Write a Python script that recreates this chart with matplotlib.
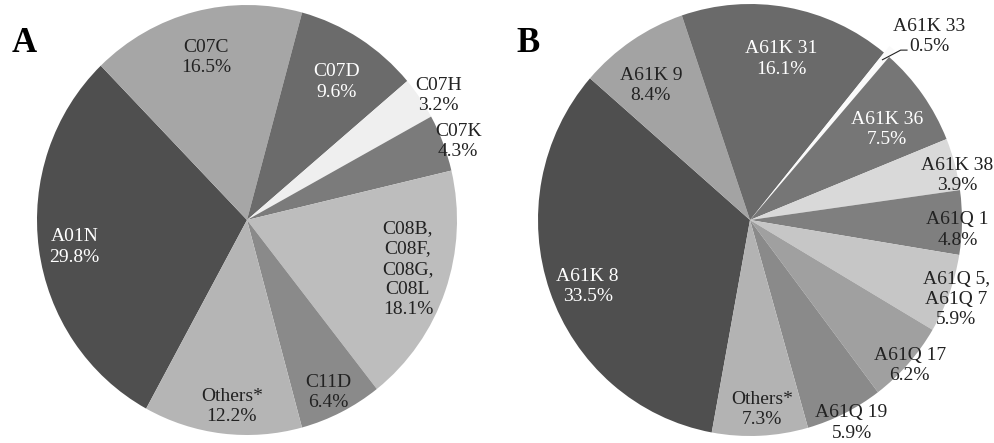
import numpy as np
import matplotlib
matplotlib.use("Agg")
import matplotlib.pyplot as plt

plt.rcParams['font.family'] = ['Liberation Serif', 'DejaVu Serif']

# Panel A data (clockwise)
labels_a = ['A01N', 'C07C', 'C07D', 'C07H', 'C07K', 'C08B,\nC08F,\nC08G,\nC08L', 'C11D', 'Others*']
values_a = [29.8, 16.5, 9.6, 3.2, 4.3, 18.1, 6.4, 12.2]
colors_a = ['#4f4f4f', '#a6a6a6', '#6b6b6b', '#efefef', '#7b7b7b', '#bdbdbd', '#8a8a8a', '#b5b5b5']
txtcol_a = ['white', '#222222', 'white', '#222222', '#222222', '#222222', '#222222', '#222222']
labr_a = [0.83, 0.78, 0.77, 1.08, 1.07, 0.80, 0.89, 0.87]
labd_a = [1, 0, -1, -2, -1, 2.6, -1, 2]

# Panel B data (clockwise)
labels_b = ['A61K 8', 'A61K 9', 'A61K 31', 'A61K 33', 'A61K 36', 'A61K 38', 'A61Q 1',
            'A61Q 5,\nA61Q 7', 'A61Q 17', 'A61Q 19', 'Others*']
values_b = [33.5, 8.4, 16.1, 0.5, 7.5, 3.9, 4.8, 5.9, 6.2, 5.9, 7.3]
colors_b = ['#4f4f4f', '#a3a3a3', '#6a6a6a', '#fafafa', '#767676', '#d9d9d9', '#7f7f7f',
            '#c6c6c6', '#a0a0a0', '#8a8a8a', '#b3b3b3']
txtcol_b = ['white', '#222222', 'white', '#222222', 'white', '#222222', '#222222',
            '#222222', '#222222', '#222222', '#222222']
labr_b = [0.825, 0.78, 0.76, 1.2, 0.77, 1.0, 0.98, 1.04, 1.01, 1.055, 0.88]
labd_b = [2.5, 3, -1, -4.8, -2.5, -3, -2, -0.8, 0, 0.5, 1]
explode_b = [0, 0, 0, 0.04, 0, 0, 0, 0, 0, 0, 0]

W, H = 995, 443
fig = plt.figure(figsize=(W / 100, H / 100), dpi=100)


def draw(rect, cx, cy, rx, ry, values, labels, colors, txtcol, labr, labd, start, explode=None):
    ax = fig.add_axes(rect)
    wedges, _ = ax.pie(values, colors=colors, startangle=start, counterclock=False,
                       explode=explode, wedgeprops=dict(linewidth=0))
    for w, lab, v, c, r, d in zip(wedges, labels, values, txtcol, labr, labd):
        ang = np.deg2rad((w.theta1 + w.theta2) / 2 + d)
        ax.text(r * np.cos(ang), r * np.sin(ang), '%s\n%.1f%%' % (lab, v),
                ha='center', va='center', color=c, fontsize=14, linespacing=1.25)
    x0 = rect[0] * W
    ax.set_aspect('auto')
    ax.set_xlim(-(cx - x0) / rx, (x0 + rect[2] * W - cx) / rx)
    ax.set_ylim(-(H - cy) / ry, cy / ry)
    ax.axis('off')
    return ax, wedges


ax1, w1 = draw([0, 0, 0.5, 1], 247, 220, 210, 215, values_a, labels_a, colors_a,
               txtcol_a, labr_a, labd_a, 90 - 208.7)
ax2, w2 = draw([0.5, 0, 0.5, 1], 750, 220, 212, 216, values_b, labels_b, colors_b,
               txtcol_b, labr_b, labd_b, 90 - 190.4, explode_b)

# leader line for the small A61K 33 slice
w = w2[3]
mid = (w.theta1 + w.theta2) / 2
a0 = np.deg2rad(mid)
a1 = np.deg2rad(mid - 2)
p0 = (0.97 * np.cos(a0), 0.97 * np.sin(a0))
p1 = (1.06 * np.cos(a1), 1.06 * np.sin(a1))
ax2.plot([p0[0], p1[0], p1[0] + 0.03], [p0[1], p1[1], p1[1]], color='#222222', lw=0.8)

fig.text(12 / W, 1 - 43 / H, 'A', fontsize=25, fontweight='bold', ha='left', va='center')
fig.text(516 / W, 1 - 43 / H, 'B', fontsize=25, fontweight='bold', ha='left', va='center')

fig.savefig('out.png', dpi=100, facecolor='white')
